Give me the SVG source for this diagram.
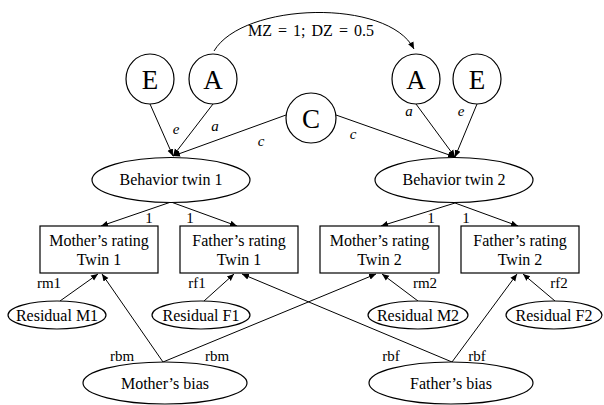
<svg xmlns="http://www.w3.org/2000/svg" width="604" height="405" viewBox="0 0 604 405">
<defs>
<marker id="ah" markerUnits="userSpaceOnUse" markerWidth="8" markerHeight="8" viewBox="0 0 8 8" refX="7" refY="4" orient="auto">
<path d="M0,1 L7,4 L0,7 Z" fill="#000"/>
</marker>
<style>
text{font-family:'Liberation Serif',Tinos,'Times New Roman',Times,'DejaVu Serif',serif}
.n{fill:#fff;stroke:#000;stroke-width:1.2}
.t{font-size:16px;text-anchor:middle;fill:#000}
.big{font-size:27px}
.lab{font-size:15px;text-anchor:middle;fill:#000}
.it{font-style:italic}
.e{fill:none;stroke:#000;stroke-width:1;marker-end:url(#ah)}
</style>
</defs>
<rect width="604" height="405" fill="#fff"/>
<g id="connectors">
<path class="e" d="M214,51 C243,2 388,-2 414,49"/>
<line class="e" x1="150" y1="104" x2="173" y2="156"/>
<line class="e" x1="213" y1="104" x2="173" y2="156"/>
<line class="e" x1="286" y1="115" x2="173" y2="156"/>
<line class="e" x1="336" y1="115" x2="455" y2="157"/>
<line class="e" x1="416" y1="104" x2="455" y2="157"/>
<line class="e" x1="477" y1="104" x2="455" y2="157"/>
<line class="e" x1="171" y1="202" x2="101" y2="226"/>
<line class="e" x1="171" y1="202" x2="237" y2="226"/>
<line class="e" x1="455" y1="203" x2="381" y2="226"/>
<line class="e" x1="455" y1="203" x2="518" y2="226"/>
<line class="e" x1="60" y1="301" x2="98" y2="274"/>
<line class="e" x1="163" y1="362" x2="102" y2="274"/>
<line class="e" x1="163" y1="362" x2="376" y2="274"/>
<line class="e" x1="204" y1="301" x2="234" y2="274"/>
<line class="e" x1="452" y1="362" x2="242" y2="274"/>
<line class="e" x1="452" y1="362" x2="517" y2="274"/>
<line class="e" x1="418" y1="301" x2="382" y2="274"/>
<line class="e" x1="555" y1="301" x2="523" y2="274"/>
<text class="lab" x="311" y="36" style="font-size:16px;word-spacing:2px">MZ = 1; DZ = 0.5</text>
<text class="lab it" x="176" y="134">e</text>
<text class="lab it" x="215" y="131">a</text>
<text class="lab it" x="261" y="146">c</text>
<text class="lab it" x="353" y="139">c</text>
<text class="lab it" x="409" y="116">a</text>
<text class="lab it" x="461" y="116">e</text>
<text class="lab" x="149" y="223">1</text>
<text class="lab" x="190" y="223">1</text>
<text class="lab" x="431" y="223">1</text>
<text class="lab" x="466" y="223">1</text>
<text class="lab" x="49" y="288">rm1</text>
<text class="lab" x="197" y="288">rf1</text>
<text class="lab" x="425" y="288">rm2</text>
<text class="lab" x="559" y="288">rf2</text>
<text class="lab" x="122" y="361">rbm</text>
<text class="lab" x="217" y="361">rbm</text>
<text class="lab" x="391" y="361">rbf</text>
<text class="lab" x="477" y="361">rbf</text>
</g>
<g id="E1"><ellipse class="n" cx="150" cy="79" rx="24" ry="25"/><text class="t big" x="150" y="89">E</text></g>
<g id="A1"><ellipse class="n" cx="213" cy="79" rx="24" ry="25"/><text class="t big" x="213" y="89">A</text></g>
<g id="A2"><ellipse class="n" cx="416" cy="79" rx="24" ry="25"/><text class="t big" x="416" y="89">A</text></g>
<g id="E2"><ellipse class="n" cx="477" cy="79" rx="24" ry="25"/><text class="t big" x="477" y="89">E</text></g>
<g id="C"><ellipse class="n" cx="311" cy="118" rx="25" ry="25"/><text class="t big" x="311" y="128">C</text></g>
<g id="B1"><ellipse class="n" cx="171" cy="180" rx="79" ry="22.5"/><text class="t" x="171" y="185">Behavior twin 1</text></g>
<g id="B2"><ellipse class="n" cx="454" cy="180" rx="79" ry="22.5"/><text class="t" x="454" y="185">Behavior twin 2</text></g>
<g id="MR1"><rect class="n" x="40" y="226" width="118" height="47"/><text class="t" x="99" y="246">Mother’s rating</text><text class="t" x="99" y="265">Twin 1</text></g>
<g id="FR1"><rect class="n" x="180" y="226" width="118" height="47"/><text class="t" x="239" y="246">Father’s rating</text><text class="t" x="239" y="265">Twin 1</text></g>
<g id="MR2"><rect class="n" x="320" y="226" width="119" height="47"/><text class="t" x="379.5" y="246">Mother’s rating</text><text class="t" x="379.5" y="265">Twin 2</text></g>
<g id="FR2"><rect class="n" x="461" y="226" width="118" height="47"/><text class="t" x="520" y="246">Father’s rating</text><text class="t" x="520" y="265">Twin 2</text></g>
<g id="RM1"><ellipse class="n" cx="57" cy="315" rx="49" ry="14"/><text class="t" x="57" y="321">Residual M1</text></g>
<g id="RF1"><ellipse class="n" cx="201" cy="315" rx="49" ry="14"/><text class="t" x="201" y="321">Residual F1</text></g>
<g id="RM2"><ellipse class="n" cx="418" cy="315" rx="50" ry="14"/><text class="t" x="418" y="321">Residual M2</text></g>
<g id="RF2"><ellipse class="n" cx="554" cy="315" rx="48" ry="14"/><text class="t" x="554" y="321">Residual F2</text></g>
<g id="MB"><ellipse class="n" cx="165" cy="383" rx="82" ry="21"/><text class="t" x="165" y="389">Mother’s bias</text></g>
<g id="FB"><ellipse class="n" cx="451" cy="383" rx="82" ry="21"/><text class="t" x="451" y="389">Father’s bias</text></g>
</svg>
